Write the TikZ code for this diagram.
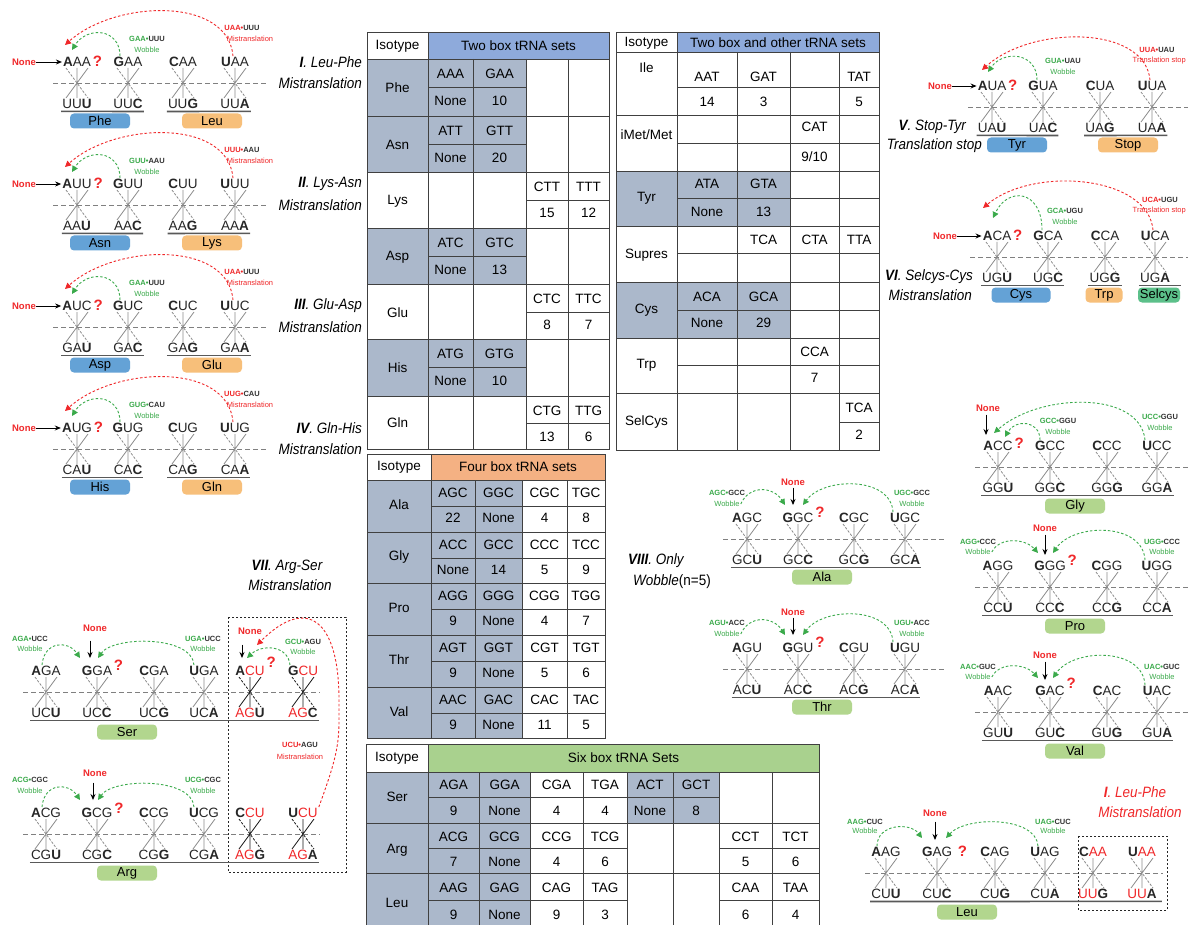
\documentclass[tikz,border=0pt]{standalone}
\usepackage{fontspec}
\setmainfont{Liberation Sans}
\newfontfamily\narrowfont[FakeStretch=0.9]{Liberation Sans}
\usetikzlibrary{arrows.meta}

\definecolor{redc}{HTML}{F0282A}
\definecolor{greenc}{HTML}{3BAA4B}
\definecolor{boxblue}{HTML}{64A2D6}
\definecolor{boxorange}{HTML}{F7BF7A}
\definecolor{boxgreen}{HTML}{B2D68E}
\definecolor{boxteal}{HTML}{5CC08A}
\definecolor{cellgray}{HTML}{ABB8CB}
\definecolor{hdblue}{HTML}{8EAADB}
\definecolor{hdorange}{HTML}{F4B183}
\definecolor{hdgreen}{HTML}{A9D18E}

\newcommand{\bft}[1]{\textbf{#1}}
\newcommand{\redt}[1]{\textcolor{redc}{#1}}
\newcommand{\grnt}[1]{\textcolor{greenc}{#1}}
% codon pair: [star style]{name}{x}{baseline y}{anticodon}{codon}
\newcommand{\codon}[6][starc]{%
  \node[cod] (#2t) at (#3,#4-21) {#5};
  \node[cod] (#2b) at (#3,#4+21) {#6};
  \draw[#1] (#3,#4-15) -- (#3,#4+15) (#3-11,#4+15) -- (#3+11,#4-15);
  \draw[#1, dash pattern=on 2.5pt off 1.5pt] (#3-11,#4-15) -- (#3+11,#4+15);}

\begin{document}
\begin{tikzpicture}[x=1pt, y=-1pt,
  cod/.style={font=\fontsize{13.5}{13.5}\selectfont, text=black!85, inner sep=1pt},
  starc/.style={draw=black!45, line width=0.8pt},
  starb/.style={draw=black!90, line width=0.8pt},
  bline/.style={draw=black!50, line width=0.9pt, dash pattern=on 5pt off 3pt},
  uline/.style={draw=black!65, line width=1.6pt},
  aabox/.style={rounded corners=4pt, minimum width=60pt, minimum height=15pt, inner sep=0pt,
                font=\fontsize{13}{13}\selectfont},
  lbl/.style={font=\bfseries\fontsize{7.5}{8}\selectfont, text=black!80, inner sep=0pt},
  wob/.style={font=\fontsize{7.5}{8}\selectfont, text=greenc, inner sep=0pt},
  mis/.style={font=\fontsize{7.5}{8}\selectfont, text=redc, inner sep=0pt},
  nonel/.style={font=\bfseries\fontsize{9.5}{10}\selectfont, text=redc, inner sep=0pt},
  qm/.style={font=\bfseries\fontsize{15}{15}\selectfont, text=redc, inner sep=0.5pt},
  ttl/.style={font=\narrowfont\itshape\fontsize{15}{17}\selectfont, inner sep=0pt},
  garc/.style={draw=greenc, line width=0.9pt, dash pattern=on 2.5pt off 2pt, -{Triangle[length=6pt,width=6pt]}},
  rarc/.style={draw=redc, line width=0.9pt, dash pattern=on 2.5pt off 2pt, -{Triangle[length=6pt,width=6pt]}},
  narr/.style={draw=black, line width=0.9pt, -{Stealth[length=6pt,width=5pt]}},
  tcell/.style={font=\fontsize{13.5}{14}\selectfont, inner sep=0pt},
  tline/.style={draw=black!75, line width=0.9pt},
  dbox/.style={draw=black!85, line width=0.9pt, dash pattern=on 2pt off 2pt}
]
\path[use as bounding box, fill=white] (0,0) rectangle (1188,925);

% ---------------- table: two box tRNA sets
\fill[hdblue] (428,32) rectangle (609,59);
\fill[cellgray] (367,59) rectangle (526,172);
\fill[cellgray] (367,228) rectangle (526,284);
\fill[cellgray] (367,339) rectangle (526,396);
\draw[tline] (367,32) rectangle (609,449);
\foreach \yy in {59,116,172,228,284,339,396} \draw[tline] (367,\yy) -- (609,\yy);
\draw[tline] (428,32) -- (428,449);
\foreach \xx in {473,526,568} \draw[tline] (\xx,59) -- (\xx,449);
\foreach \yy in {87,144,256,367} \draw[tline] (428,\yy) -- (526,\yy);
\foreach \yy in {200,312,423} \draw[tline] (526,\yy) -- (609,\yy);
\node[tcell] (t1h) at (397.5,46) {Isotype};
\node[tcell] (t1g) at (518.5,46) {Two box tRNA sets};
\foreach \nm/\yy [count=\k] in {Phe/88,Asn/145,Lys/201,Asp/257,Glu/313,His/368,Gln/423}
  \node[tcell] (t1i\k) at (397.5,\yy) {\nm};
\foreach \a/\b/\c/\d/\yy [count=\k] in {AAA/GAA/None/10/59, ATT/GTT/None/20/116, ATC/GTC/None/13/228, ATG/GTG/None/10/339}{
  \node[tcell] (t1a\k) at (450.5,\yy+15) {\a};
  \node[tcell] (t1b\k) at (499.5,\yy+15) {\b};
  \node[tcell] (t1c\k) at (450.5,\yy+42) {\c};
  \node[tcell] (t1d\k) at (499.5,\yy+42) {\d};
}
\foreach \a/\b/\c/\d/\yy [count=\k] in {CTT/TTT/15/12/172, CTC/TTC/8/7/284, CTG/TTG/13/6/396}{
  \node[tcell] (t1e\k) at (547,\yy+15) {\a};
  \node[tcell] (t1f\k) at (588.5,\yy+15) {\b};
  \node[tcell] (t1m\k) at (547,\yy+41) {\c};
  \node[tcell] (t1n\k) at (588.5,\yy+41) {\d};
}

% ---------------- table: two box and other tRNA sets
\fill[hdblue] (677,32) rectangle (879,52);
\fill[cellgray] (616,171) rectangle (790,226);
\fill[cellgray] (616,282) rectangle (790,338);
\draw[tline] (616,32) rectangle (879,450);
\foreach \yy in {52,115,171,226,282,338,393} \draw[tline] (616,\yy) -- (879,\yy);
\draw[tline] (677,32) -- (677,450);
\foreach \xx in {737,790,839} \draw[tline] (\xx,52) -- (\xx,450);
\foreach \yy in {87,143,198,253,310,365} \draw[tline] (677,\yy) -- (879,\yy);
\draw[tline] (839,422) -- (879,422);
\node[tcell] (t2h) at (646.5,43) {Isotype};
\node[tcell] (t2g) at (778,43) {Two box and other tRNA sets};
\foreach \nm/\yy [count=\k] in {Ile/68,Tyr/198,Supres/255,Cys/310,Trp/365,SelCys/422}
  \node[tcell] (t2i\k) at (646.5,\yy) {\nm};
\node[tcell] (t2im) at (646.5,135) {iMet/Met};
\foreach \xx/\tt [count=\k] in {707/AAT,763.5/GAT,859/TAT} \node[tcell] (t2a\k) at (\xx,77) {\tt};
\foreach \xx/\tt [count=\k] in {707/14,763.5/3,859/5} \node[tcell] (t2b\k) at (\xx,102) {\tt};
\node[tcell] (t2c1) at (814.5,127) {CAT};
\node[tcell] (t2c2) at (814.5,157) {9/10};
\foreach \xx/\tt [count=\k] in {707/ATA,763.5/GTA} \node[tcell] (t2d\k) at (\xx,184) {\tt};
\foreach \xx/\tt [count=\k] in {707/None,763.5/13} \node[tcell] (t2e\k) at (\xx,212) {\tt};
\foreach \xx/\tt [count=\k] in {763.5/TCA,814.5/CTA,859/TTA} \node[tcell] (t2f\k) at (\xx,240) {\tt};
\foreach \xx/\tt [count=\k] in {707/ACA,763.5/GCA} \node[tcell] (t2j\k) at (\xx,297) {\tt};
\foreach \xx/\tt [count=\k] in {707/None,763.5/29} \node[tcell] (t2k\k) at (\xx,323) {\tt};
\node[tcell] (t2m1) at (814.5,352) {CCA};
\node[tcell] (t2m2) at (814.5,378) {7};
\node[tcell] (t2n1) at (859,408) {TCA};
\node[tcell] (t2n2) at (859,435) {2};

% ---------------- table: four box tRNA sets
\fill[hdorange] (431,454) rectangle (605,480);
\fill[cellgray] (367,480) rectangle (522,738);
\draw[tline] (367,454) rectangle (605,738);
\foreach \yy in {480,532,583,635,687} \draw[tline] (367,\yy) -- (605,\yy);
\draw[tline] (431,454) -- (431,738);
\foreach \xx in {475,522,567} \draw[tline] (\xx,480) -- (\xx,738);
\foreach \yy in {506,558,609,661,713} \draw[tline] (431,\yy) -- (605,\yy);
\node[tcell] (t3h) at (399,467) {Isotype};
\node[tcell] (t3g) at (518,467) {Four box tRNA sets};
\foreach \iso/\a/\b/\c/\d/\e/\f/\g/\h/\yy [count=\k] in
  {Ala/AGC/GGC/CGC/TGC/22/None/4/8/480, Gly/ACC/GCC/CCC/TCC/None/14/5/9/532,
   Pro/AGG/GGG/CGG/TGG/9/None/4/7/583, Thr/AGT/GGT/CGT/TGT/9/None/5/6/635,
   Val/AAC/GAC/CAC/TAC/9/None/11/5/687}{
  \node[tcell] (t3i\k) at (399,\yy+25) {\iso};
  \node[tcell] (t3a\k) at (453,\yy+13) {\a};
  \node[tcell] (t3b\k) at (498.5,\yy+13) {\b};
  \node[tcell] (t3c\k) at (544.5,\yy+13) {\c};
  \node[tcell] (t3d\k) at (586,\yy+13) {\d};
  \node[tcell] (t3e\k) at (453,\yy+38) {\e};
  \node[tcell] (t3f\k) at (498.5,\yy+38) {\f};
  \node[tcell] (t3g\k) at (544.5,\yy+38) {\g};
  \node[tcell] (t3j\k) at (586,\yy+38) {\h};
}

% ---------------- table: six box tRNA sets
\fill[hdgreen] (428,744) rectangle (819,772);
\fill[cellgray] (366,772) rectangle (530,928);
\fill[cellgray] (627,772) rectangle (719,823);
\draw[tline] (366,744) rectangle (819,928);
\foreach \yy in {772,823,873} \draw[tline] (366,\yy) -- (819,\yy);
\draw[tline] (428,744) -- (428,928);
\foreach \xx in {479,530,583,627,673,719,772} \draw[tline] (\xx,772) -- (\xx,928);
\draw[tline] (428,797) -- (719,797);
\foreach \yy in {848,900} \draw[tline] (428,\yy) -- (627,\yy) (719,\yy) -- (819,\yy);
\node[tcell] (t4h) at (397,758) {Isotype};
\node[tcell] (t4g) at (623.5,758) {Six box tRNA Sets};
\node[tcell] (t4i1) at (397,797) {Ser};
\node[tcell] (t4i2) at (397,850) {Arg};
\node[tcell] (t4i3) at (397,903) {Leu};
\foreach \xx/\tt [count=\k] in {453.5/AGA,504.5/GGA,556.5/CGA,605/TGA,650/ACT,696/GCT}
  \node[tcell] (t4a\k) at (\xx,785) {\tt};
\foreach \xx/\tt [count=\k] in {453.5/9,504.5/None,556.5/4,605/4,650/None,696/8}
  \node[tcell] (t4b\k) at (\xx,811) {\tt};
\foreach \xx/\tt [count=\k] in {453.5/ACG,504.5/GCG,556.5/CCG,605/TCG,745.5/CCT,795.5/TCT}
  \node[tcell] (t4c\k) at (\xx,837) {\tt};
\foreach \xx/\tt [count=\k] in {453.5/7,504.5/None,556.5/4,605/6,745.5/5,795.5/6}
  \node[tcell] (t4d\k) at (\xx,862) {\tt};
\foreach \xx/\tt [count=\k] in {453.5/AAG,504.5/GAG,556.5/CAG,605/TAG,745.5/CAA,795.5/TAA}
  \node[tcell] (t4e\k) at (\xx,888) {\tt};
\foreach \xx/\tt [count=\k] in {453.5/9,504.5/None,556.5/9,605/3,745.5/6,795.5/4}
  \node[tcell] (t4f\k) at (\xx,915) {\tt};

% ---------------- panel I: Leu-Phe
\draw[bline] (53,83) -- (267,83);
\codon{p1a}{77}{83}{\bft{A}AA}{UU\bft{U}}
\codon{p1b}{128}{83}{\bft{G}AA}{UU\bft{C}}
\codon{p1c}{183}{83}{\bft{C}AA}{UU\bft{G}}
\codon{p1d}{235}{83}{\bft{U}AA}{UU\bft{A}}
\draw[uline] ([yshift=-1.5pt]p1ab.south west) -- ([yshift=-1.5pt]p1bb.south east);
\draw[uline] ([yshift=-1.5pt]p1cb.south west) -- ([yshift=-1.5pt]p1db.south east);
\node[aabox, fill=boxblue] (p1x) at (100,121) {Phe};
\node[aabox, fill=boxorange] (p1y) at (212,121) {Leu};
\node[nonel] (p1n) at (24,62) {None};
\draw[narr] (p1n) -- (p1at);
\node[qm, anchor=base west] (p1q) at (p1at.base east) {?};
\node[lbl] (p1g) at (147,39) {\grnt{GAA\textbullet}UUU};
\node[wob] (p1w) at (147,50) {Wobble};
\node[lbl] (p1r) at (242,28) {\redt{UAA\textbullet}UUU};
\node[mis] (p1m) at (250,39) {Mistranslation};
\coordinate (p1ge) at (72,50);
\coordinate (p1re) at (65,45);
\draw[garc] ([xshift=-8pt]p1bt.north) .. controls +(0,-28) and +(15,-24) .. (p1ge);
\draw[rarc] ([xshift=-2pt]p1dt.north) .. controls +(-5,-60) and +(50,-45) .. (p1re);
\node[ttl, anchor=east] (p1t) at (362,62) {\bft{I}. Leu-Phe};
\node[ttl, anchor=east] (p1u) at (362,83) {Mistranslation};

% ---------------- panel II: Lys-Asn
\draw[bline] (53,205) -- (267,205);
\codon{p2a}{77}{205}{\bft{A}UU}{AA\bft{U}}
\codon{p2b}{128}{205}{\bft{G}UU}{AA\bft{C}}
\codon{p2c}{183}{205}{\bft{C}UU}{AA\bft{G}}
\codon{p2d}{235}{205}{\bft{U}UU}{AA\bft{A}}
\draw[uline] ([yshift=-1.5pt]p2ab.south west) -- ([yshift=-1.5pt]p2bb.south east);
\draw[uline] ([yshift=-1.5pt]p2cb.south west) -- ([yshift=-1.5pt]p2db.south east);
\node[aabox, fill=boxblue] (p2x) at (100,243) {Asn};
\node[aabox, fill=boxorange] (p2y) at (212,243) {Lys};
\node[nonel] (p2n) at (24,184) {None};
\draw[narr] (p2n) -- (p2at);
\node[qm, anchor=base west] (p2q) at (p2at.base east) {?};
\node[lbl] (p2g) at (147,161) {\grnt{GUU\textbullet}AAU};
\node[wob] (p2w) at (147,172) {Wobble};
\node[lbl] (p2r) at (242,150) {\redt{UUU\textbullet}AAU};
\node[mis] (p2m) at (250,161) {Mistranslation};
\coordinate (p2ge) at (72,172);
\coordinate (p2re) at (65,167);
\draw[garc] ([xshift=-8pt]p2bt.north) .. controls +(0,-28) and +(15,-24) .. (p2ge);
\draw[rarc] ([xshift=-2pt]p2dt.north) .. controls +(-5,-60) and +(50,-45) .. (p2re);
\node[ttl, anchor=east] (p2t) at (362,184) {\bft{II}. Lys-Asn};
\node[ttl, anchor=east] (p2u) at (362,205) {Mistranslation};

% ---------------- panel III: Glu-Asp
\draw[bline] (53,327) -- (267,327);
\codon{p3a}{77}{327}{\bft{A}UC}{GA\bft{U}}
\codon{p3b}{128}{327}{\bft{G}UC}{GA\bft{C}}
\codon{p3c}{183}{327}{\bft{C}UC}{GA\bft{G}}
\codon{p3d}{235}{327}{\bft{U}UC}{GA\bft{A}}
\draw[uline] ([yshift=-1.5pt]p3ab.south west) -- ([yshift=-1.5pt]p3bb.south east);
\draw[uline] ([yshift=-1.5pt]p3cb.south west) -- ([yshift=-1.5pt]p3db.south east);
\node[aabox, fill=boxblue] (p3x) at (100,365) {Asp};
\node[aabox, fill=boxorange] (p3y) at (212,365) {Glu};
\node[nonel] (p3n) at (24,306) {None};
\draw[narr] (p3n) -- (p3at);
\node[qm, anchor=base west] (p3q) at (p3at.base east) {?};
\node[lbl] (p3g) at (147,283) {\grnt{GAA\textbullet}UUU};
\node[wob] (p3w) at (147,294) {Wobble};
\node[lbl] (p3r) at (242,272) {\redt{UAA\textbullet}UUU};
\node[mis] (p3m) at (250,283) {Mistranslation};
\coordinate (p3ge) at (72,294);
\coordinate (p3re) at (65,289);
\draw[garc] ([xshift=-8pt]p3bt.north) .. controls +(0,-28) and +(15,-24) .. (p3ge);
\draw[rarc] ([xshift=-2pt]p3dt.north) .. controls +(-5,-60) and +(50,-45) .. (p3re);
\node[ttl, anchor=east] (p3t) at (362,306) {\bft{III}. Glu-Asp};
\node[ttl, anchor=east] (p3u) at (362,327) {Mistranslation};

% ---------------- panel IV: Gln-His
\draw[bline] (53,449) -- (267,449);
\codon{p4a}{77}{449}{\bft{A}UG}{CA\bft{U}}
\codon{p4b}{128}{449}{\bft{G}UG}{CA\bft{C}}
\codon{p4c}{183}{449}{\bft{C}UG}{CA\bft{G}}
\codon{p4d}{235}{449}{\bft{U}UG}{CA\bft{A}}
\draw[uline] ([yshift=-1.5pt]p4ab.south west) -- ([yshift=-1.5pt]p4bb.south east);
\draw[uline] ([yshift=-1.5pt]p4cb.south west) -- ([yshift=-1.5pt]p4db.south east);
\node[aabox, fill=boxblue] (p4x) at (100,487) {His};
\node[aabox, fill=boxorange] (p4y) at (212,487) {Gln};
\node[nonel] (p4n) at (24,428) {None};
\draw[narr] (p4n) -- (p4at);
\node[qm, anchor=base west] (p4q) at (p4at.base east) {?};
\node[lbl] (p4g) at (147,405) {\grnt{GUG\textbullet}CAU};
\node[wob] (p4w) at (147,416) {Wobble};
\node[lbl] (p4r) at (242,394) {\redt{UUG\textbullet}CAU};
\node[mis] (p4m) at (250,405) {Mistranslation};
\coordinate (p4ge) at (72,416);
\coordinate (p4re) at (65,411);
\draw[garc] ([xshift=-8pt]p4bt.north) .. controls +(0,-28) and +(15,-24) .. (p4ge);
\draw[rarc] ([xshift=-2pt]p4dt.north) .. controls +(-5,-60) and +(50,-45) .. (p4re);
\node[ttl, anchor=east] (p4t) at (362,428) {\bft{IV}. Gln-His};
\node[ttl, anchor=east] (p4u) at (362,449) {Mistranslation};

% ---------------- panel V: Stop-Tyr
\draw[bline] (968,107) -- (1190,107);
\codon{p5a}{992}{107}{\bft{A}UA}{UA\bft{U}}
\codon{p5b}{1043}{107}{\bft{G}UA}{UA\bft{C}}
\codon{p5c}{1100}{107}{\bft{C}UA}{UA\bft{G}}
\codon{p5d}{1152}{107}{\bft{U}UA}{UA\bft{A}}
\draw[uline] ([yshift=-1.5pt]p5ab.south west) -- ([yshift=-1.5pt]p5bb.south east);
\draw[uline] ([yshift=-1.5pt]p5cb.south west) -- ([yshift=-1.5pt]p5db.south east);
\node[aabox, fill=boxblue] (p5x) at (1017,145) {Tyr};
\node[aabox, fill=boxorange] (p5y) at (1128,145) {Stop};
\node[nonel] (p5n) at (940,86) {None};
\draw[narr] (p5n) -- (p5at);
\node[qm, anchor=base west] (p5q) at (p5at.base east) {?};
\node[lbl] (p5g) at (1063,61) {\grnt{GUA\textbullet}UAU};
\node[wob] (p5w) at (1063,72) {Wobble};
\node[lbl] (p5r) at (1157,50) {\redt{UUA\textbullet}UAU};
\node[mis, anchor=east] (p5m) at (1186,61) {Translation stop};
\coordinate (p5ge) at (988,72);
\coordinate (p5re) at (982,70);
\draw[garc] ([xshift=-6pt]p5bt.north) .. controls +(0,-28) and +(15,-22) .. (p5ge);
\draw[rarc] ([xshift=-2pt]p5dt.north) .. controls +(-5,-55) and +(50,-45) .. (p5re);
\node[ttl, anchor=east] (p5t) at (966,127) {\bft{V}. Stop-Tyr};
\node[ttl, anchor=east] (p5u) at (982,146) {Translation stop};

% ---------------- panel VI: Selcys-Cys
\draw[bline] (970,257) -- (1190,257);
\codon{p6a}{997}{257}{\bft{A}CA}{UG\bft{U}}
\codon{p6b}{1048}{257}{\bft{G}CA}{UG\bft{C}}
\codon{p6c}{1105}{257}{\bft{C}CA}{UG\bft{G}}
\codon{p6d}{1155}{257}{\bft{U}CA}{UG\bft{A}}
\draw[uline] ([yshift=-1.5pt]p6ab.south west) -- ([yshift=-1.5pt]p6bb.south east);
\draw[uline] ([yshift=-1.5pt]p6cb.south west) -- ([yshift=-1.5pt]p6cb.south east);
\draw[uline] ([yshift=-1.5pt]p6db.south west) -- ([xshift=10pt,yshift=-1.5pt]p6db.south east);
\node[aabox, fill=boxblue, minimum width=59pt] (p6x) at (1021,295) {Cys};
\node[aabox, fill=boxorange, minimum width=37pt] (p6y) at (1104,295) {Trp};
\node[aabox, fill=boxteal, minimum width=42pt] (p6z) at (1159,295) {Selcys};
\node[nonel] (p6n) at (945,236) {None};
\draw[narr] (p6n) -- (p6at);
\node[qm, anchor=base west] (p6q) at (p6at.base east) {?};
\node[lbl] (p6g) at (1065,211) {\grnt{GCA\textbullet}UGU};
\node[wob] (p6w) at (1065,222) {Wobble};
\node[lbl] (p6r) at (1160,200) {\redt{UCA\textbullet}UGU};
\node[mis, anchor=east] (p6m) at (1186,211) {Translation stop};
\coordinate (p6ge) at (993,218);
\coordinate (p6re) at (983,208);
\draw[garc] ([xshift=-6pt]p6bt.north) .. controls +(0,-40) and +(15,-32) .. (p6ge);
\draw[rarc] ([xshift=-2pt]p6dt.north) .. controls +(-5,-55) and +(50,-42) .. (p6re);
\node[ttl, anchor=east] (p6t) at (973,277) {\bft{VI}. Selcys-Cys};
\node[ttl, anchor=east] (p6u) at (972,295) {Mistranslation};

% ---------------- panel VII: Arg-Ser
\node[ttl] (p7t) at (287,567) {\bft{VII}. Arg-Ser};
\node[ttl] (p7u) at (290,585) {Mistranslation};
\draw[dbox] (228,617) rectangle (346,872);
\draw[bline] (23,692) -- (320,692);
\codon{p7sa}{46}{692}{\bft{A}GA}{UC\bft{U}}
\codon{p7sb}{97}{692}{\bft{G}GA}{UC\bft{C}}
\codon{p7sc}{154}{692}{\bft{C}GA}{UC\bft{G}}
\codon{p7sd}{204}{692}{\bft{U}GA}{UC\bft{A}}
\codon[starb]{p7se}{250}{692}{\bft{A}\redt{CU}}{\redt{AG}\bft{U}}
\codon[starb]{p7sf}{303}{692}{\bft{G}\redt{CU}}{\redt{AG}\bft{C}}
\draw[uline] ([yshift=-1.5pt]p7sab.south west) -- ([yshift=-1.5pt]p7sfb.south east);
\node[aabox, fill=boxgreen] (p7sx) at (127,732) {Ser};
\node[nonel] (p7sn) at (95,628) {None};
\draw[narr] ([xshift=-5pt,yshift=-9pt]p7sn.south) -- ([xshift=-7pt,yshift=7pt]p7sbt.north);
\node[qm, anchor=base west] (p7sq) at ([yshift=5pt]p7sbt.base east) {?};
\node[lbl] (p7sg) at (30,639) {\grnt{AGA\textbullet}UCC};
\node[wob] (p7sw) at (30,649) {Wobble};
\node[lbl] (p7sh) at (203,639) {\grnt{UGA\textbullet}UCC};
\node[wob] (p7sv) at (203,649) {Wobble};
\coordinate (p7sl) at (80,658);
\coordinate (p7sr) at (98,658);
\draw[garc] ([xshift=-4pt]p7sat.north) .. controls +(2,-24) and +(-12,-18) .. (p7sl);
\draw[garc] ([xshift=-10pt]p7sdt.north) .. controls +(-2,-30) and +(15,-22) .. (p7sr);
\node[nonel] (p7sm) at (250,631) {None};
\draw[narr] ([xshift=-8pt,yshift=-10pt]p7sm.south) -- ([xshift=-8pt,yshift=7pt]p7set.north);
\node[qm, anchor=base west] (p7sp) at ([yshift=8pt]p7set.base east) {?};
\node[lbl] (p7sk) at (303,642) {\grnt{GCU\textbullet}AGU};
\node[wob] (p7su) at (303,652) {Wobble};
\coordinate (p7sy) at (247,658);
\draw[garc] ([xshift=-13pt]p7sft.north) .. controls +(-2,-20) and +(15,-14) .. (p7sy);
\draw[bline] (23,834) -- (320,834);
\codon{p7aa}{46}{834}{\bft{A}CG}{CG\bft{U}}
\codon{p7ab}{97}{834}{\bft{G}CG}{CG\bft{C}}
\codon{p7ac}{154}{834}{\bft{C}CG}{CG\bft{G}}
\codon{p7ad}{204}{834}{\bft{U}CG}{CG\bft{A}}
\codon[starb]{p7ae}{250}{834}{\bft{C}\redt{CU}}{\redt{AG}\bft{G}}
\codon[starb]{p7af}{303}{834}{\bft{U}\redt{CU}}{\redt{AG}\bft{A}}
\draw[uline] ([yshift=-1.5pt]p7aab.south west) -- ([yshift=-1.5pt]p7afb.south east);
\node[aabox, fill=boxgreen] (p7ax) at (127,873) {Arg};
\node[nonel] (p7an) at (95,773) {None};
\draw[narr] ([xshift=-2pt,yshift=-6pt]p7an.south) -- ([xshift=-4pt,yshift=7pt]p7abt.north);
\node[qm, anchor=base west] (p7aq) at ([yshift=4pt]p7abt.base east) {?};
\node[lbl] (p7ag) at (30,780) {\grnt{ACG\textbullet}CGC};
\node[wob] (p7aw) at (30,791) {Wobble};
\node[lbl] (p7ah) at (203,780) {\grnt{UCG\textbullet}CGC};
\node[wob] (p7av) at (203,791) {Wobble};
\coordinate (p7al) at (80,800);
\coordinate (p7ar) at (98,800);
\draw[garc] ([xshift=-4pt]p7aat.north) .. controls +(2,-24) and +(-12,-18) .. (p7al);
\draw[garc] ([xshift=-10pt]p7adt.north) .. controls +(-2,-30) and +(15,-22) .. (p7ar);
\node[lbl] (p7rl) at (300,745) {\redt{UCU\textbullet}AGU};
\node[mis] (p7rm) at (300,757) {Mistranslation};
\coordinate (p7rc) at (339,700);
\coordinate (p7re) at (257,645);
\draw[rarc] (p7aft.north east) .. controls +(22,-60) and +(0,40) .. (p7rc)
  .. controls +(0,-80) and +(50,-50) .. (p7re);

% ---------------- panel VIII: only wobble
\node[ttl, anchor=west] (p8t) at (628,561) {\bft{VIII}. Only};
\node[ttl, anchor=west] (p8u) at (633,582) {Wobble\textup{(n=5)}};
\draw[bline] (723,539) -- (945,539);
\codon{p8aa}{747}{539}{\bft{A}GC}{GC\bft{U}}
\codon{p8ab}{798}{539}{\bft{G}GC}{GC\bft{C}}
\codon{p8ac}{854}{539}{\bft{C}GC}{GC\bft{G}}
\codon{p8ad}{905}{539}{\bft{U}GC}{GC\bft{A}}
\draw[uline] ([yshift=-1.5pt]p8aab.south west) -- ([yshift=-1.5pt]p8adb.south east);
\node[aabox, fill=boxgreen] (p8ax) at (822,577) {Ala};
\node[nonel] (p8an) at (793,482) {None};
\draw[narr] ([yshift=-2pt]p8an.south) -- ([xshift=-5pt,yshift=7pt]p8abt.north);
\node[qm, anchor=base west] (p8aq) at ([yshift=5pt]p8abt.base east) {?};
\node[lbl] (p8ag) at (727,493) {\grnt{AGC\textbullet}GCC};
\node[wob] (p8aw) at (727,504) {Wobble};
\node[lbl] (p8ah) at (912,493) {\grnt{UGC\textbullet}GCC};
\node[wob] (p8av) at (912,504) {Wobble};
\coordinate (p8al) at (785,505);
\coordinate (p8ar) at (803,505);
\draw[garc] ([xshift=1pt]p8aw.east) .. controls +(8,-19) and +(-12,-19) .. (p8al);
\draw[garc] ([xshift=-12pt]p8adt.north) .. controls +(-2,-36) and +(20,-28) .. (p8ar);
\draw[bline] (723,669) -- (945,669);
\codon{p8ba}{747}{669}{\bft{A}GU}{AC\bft{U}}
\codon{p8bb}{798}{669}{\bft{G}GU}{AC\bft{C}}
\codon{p8bc}{854}{669}{\bft{C}GU}{AC\bft{G}}
\codon{p8bd}{905}{669}{\bft{U}GU}{AC\bft{A}}
\draw[uline] ([yshift=-1.5pt]p8bab.south west) -- ([yshift=-1.5pt]p8bdb.south east);
\node[aabox, fill=boxgreen] (p8bx) at (822,707) {Thr};
\node[nonel] (p8bn) at (793,612) {None};
\draw[narr] ([yshift=-2pt]p8bn.south) -- ([xshift=-5pt,yshift=7pt]p8bbt.north);
\node[qm, anchor=base west] (p8bq) at ([yshift=5pt]p8bbt.base east) {?};
\node[lbl] (p8bg) at (727,623) {\grnt{AGU\textbullet}ACC};
\node[wob] (p8bw) at (727,634) {Wobble};
\node[lbl] (p8bh) at (912,623) {\grnt{UGU\textbullet}ACC};
\node[wob] (p8bv) at (912,634) {Wobble};
\coordinate (p8bl) at (785,635);
\coordinate (p8br) at (803,635);
\draw[garc] ([xshift=1pt]p8bw.east) .. controls +(8,-19) and +(-12,-19) .. (p8bl);
\draw[garc] ([xshift=-12pt]p8bdt.north) .. controls +(-2,-36) and +(20,-28) .. (p8br);

% ---------------- right column: Gly, Pro, Val
\draw[bline] (975,467) -- (1190,467);
\codon{p9aa}{998}{467}{\bft{A}CC}{GG\bft{U}}
\codon{p9ab}{1050}{467}{\bft{G}CC}{GG\bft{C}}
\codon{p9ac}{1107}{467}{\bft{C}CC}{GG\bft{G}}
\codon{p9ad}{1157}{467}{\bft{U}CC}{GG\bft{A}}
\draw[uline] ([yshift=-1.5pt]p9aab.south west) -- ([yshift=-1.5pt]p9adb.south east);
\node[aabox, fill=boxgreen] (p9ax) at (1075,506) {Gly};
\node[nonel] (p9an) at (988,408) {None};
\draw[narr] ([xshift=-2pt,yshift=-3pt]p9an.south) -- ([xshift=-12pt,yshift=5pt]p9aat.north);
\node[qm, anchor=base west] (p9aq) at ([yshift=2pt]p9aat.base east) {?};
\node[lbl] (p9ag) at (1058,421) {\grnt{GCC\textbullet}GGU};
\node[wob] (p9aw) at (1058,432) {Wobble};
\node[lbl] (p9ah) at (1160,417) {\grnt{UCC\textbullet}GGU};
\node[wob] (p9av) at (1160,428) {Wobble};
\coordinate (p9al) at (1005,437);
\coordinate (p9ar) at (994,433);
\draw[garc] ([xshift=-10pt]p9abt.north) .. controls +(0,-20) and +(10,-18) .. (p9al);
\draw[garc] ([xshift=-12pt]p9adt.north) .. controls +(-5,-50) and +(45,-40) .. (p9ar);

\draw[bline] (975,587) -- (1190,587);
\codon{p9ba}{998}{587}{\bft{A}GG}{CC\bft{U}}
\codon{p9bb}{1050}{587}{\bft{G}GG}{CC\bft{C}}
\codon{p9bc}{1107}{587}{\bft{C}GG}{CC\bft{G}}
\codon{p9bd}{1157}{587}{\bft{U}GG}{CC\bft{A}}
\draw[uline] ([yshift=-1.5pt]p9bab.south west) -- ([yshift=-1.5pt]p9bdb.south east);
\node[aabox, fill=boxgreen] (p9bx) at (1075,626) {Pro};
\node[nonel] (p9bn) at (1045,528) {None};
\draw[narr] ([yshift=-3pt]p9bn.south) -- ([xshift=-5pt,yshift=5pt]p9bbt.north);
\node[qm, anchor=base west] (p9bq) at ([yshift=5pt]p9bbt.base east) {?};
\node[lbl] (p9bg) at (978,542) {\grnt{AGG\textbullet}CCC};
\node[wob] (p9bw) at (978,552) {Wobble};
\node[lbl] (p9bh) at (1162,542) {\grnt{UGG\textbullet}CCC};
\node[wob] (p9bv) at (1162,552) {Wobble};
\coordinate (p9bl) at (1038,553);
\coordinate (p9br) at (1053,553);
\draw[garc] ([xshift=1pt]p9bw.east) .. controls +(8,-16) and +(-12,-14) .. (p9bl);
\draw[garc] ([xshift=-12pt]p9bdt.north) .. controls +(-2,-38) and +(20,-30) .. (p9br);

\draw[bline] (975,712) -- (1190,712);
\codon{p9ca}{998}{712}{\bft{A}AC}{GU\bft{U}}
\codon{p9cb}{1050}{712}{\bft{G}AC}{GU\bft{C}}
\codon{p9cc}{1107}{712}{\bft{C}AC}{GU\bft{G}}
\codon{p9cd}{1157}{712}{\bft{U}AC}{GU\bft{A}}
\draw[uline] ([yshift=-1.5pt]p9cab.south west) -- ([yshift=-1.5pt]p9cdb.south east);
\node[aabox, fill=boxgreen] (p9cx) at (1075,751) {Val};
\node[nonel] (p9cn) at (1045,655) {None};
\draw[narr] ([yshift=-3pt]p9cn.south) -- ([xshift=-5pt,yshift=5pt]p9cbt.north);
\node[qm, anchor=base west] (p9cq) at ([yshift=7pt]p9cbt.base east) {?};
\node[lbl] (p9cg) at (978,667) {\grnt{AAC\textbullet}GUC};
\node[wob] (p9cw) at (978,677) {Wobble};
\node[lbl] (p9ch) at (1162,667) {\grnt{UAC\textbullet}GUC};
\node[wob] (p9cv) at (1162,677) {Wobble};
\coordinate (p9cl) at (1038,678);
\coordinate (p9cr) at (1053,678);
\draw[garc] ([xshift=1pt]p9cw.east) .. controls +(8,-16) and +(-12,-14) .. (p9cl);
\draw[garc] ([xshift=-12pt]p9cdt.north) .. controls +(-2,-38) and +(20,-30) .. (p9cr);

% ---------------- bottom right: Leu
\node[ttl, text=redc] (p10t) at (1135,792) {\bft{I}. Leu-Phe};
\node[ttl, text=redc] (p10u) at (1140,812) {Mistranslation};
\draw[dbox] (1078,836) rectangle (1167,910);
\draw[bline] (865,873) -- (1163,873);
\codon{p10a}{886}{873}{\bft{A}AG}{CU\bft{U}}
\codon{p10b}{937}{873}{\bft{G}AG}{CU\bft{C}}
\codon{p10c}{995}{873}{\bft{C}AG}{CU\bft{G}}
\codon{p10d}{1045}{873}{\bft{U}AG}{CU\bft{A}}
\codon{p10e}{1093}{873}{\bft{C}\redt{AA}}{\redt{UU}\bft{G}}
\codon{p10f}{1142}{873}{\bft{U}\redt{AA}}{\redt{UU}\bft{A}}
\draw[uline] ([yshift=-1.5pt]p10ab.south west) -- ([xshift=4pt,yshift=-1.5pt]p10fb.south east);
\node[aabox, fill=boxgreen] (p10x) at (967,912) {Leu};
\node[nonel] (p10n) at (935,813) {None};
\draw[narr] ([yshift=-5pt]p10n.south) -- ([xshift=-2pt,yshift=6pt]p10bt.north);
\node[qm, anchor=base west] (p10q) at ([xshift=4pt]p10bt.base east) {?};
\node[lbl] (p10g) at (865,822) {\grnt{AAG\textbullet}CUC};
\node[wob] (p10w) at (865,831) {Wobble};
\node[lbl] (p10h) at (1053,822) {\grnt{UAG\textbullet}CUC};
\node[wob] (p10v) at (1053,831) {Wobble};
\coordinate (p10l) at (922,838);
\coordinate (p10r) at (946,838);
\draw[garc] ([xshift=-9pt]p10at.north) .. controls +(0,-22) and +(-12,-16) .. (p10l);
\draw[garc] ([xshift=-7pt]p10dt.north) .. controls +(-2,-30) and +(20,-22) .. (p10r);
\end{tikzpicture}
\end{document}
